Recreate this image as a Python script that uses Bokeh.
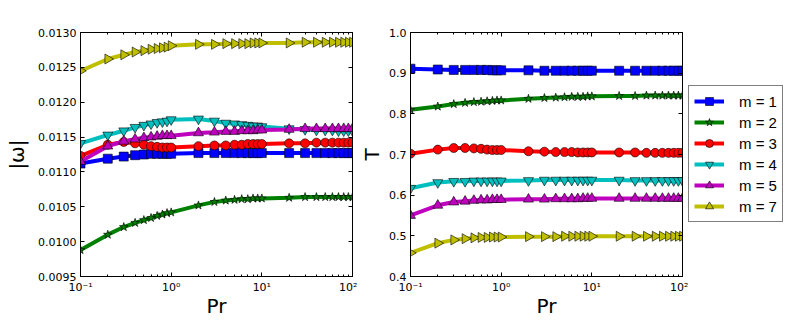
import math
from bokeh.plotting import figure
from bokeh.models import (LinearAxis, LogAxis, FixedTicker, Legend, LegendItem,
                          PrintfTickFormatter, Range1d)
from bokeh.layouts import row
from bokeh.embed import file_html
from bokeh.resources import INLINE

# ---------------- data ----------------
pr = [0.1, 0.2, 0.3, 0.4, 0.5, 0.6, 0.7, 0.8, 0.9,
      1, 2, 3, 4, 5, 6, 7, 8, 9,
      10, 20, 30, 40, 50, 60, 70, 80, 90, 100]

labels = ["m = 1", "m = 2", "m = 3", "m = 4", "m = 5", "m = 7"]

omega_m1 = [0.01112, 0.01119, 0.01122, 0.01124, 0.01125, 0.01126, 0.01126, 0.01126, 0.01126, 0.01126,
            0.01127, 0.01127, 0.01127, 0.01127, 0.01127, 0.01127, 0.01127, 0.01127, 0.01127,
            0.01127, 0.01127, 0.01127, 0.01127, 0.01127, 0.01127, 0.01127, 0.01127, 0.01127]
omega_m2 = [0.00988, 0.01010, 0.01021, 0.01027, 0.01031, 0.01034, 0.01037, 0.01039, 0.01041, 0.01042,
            0.01052, 0.01057, 0.01059, 0.01060, 0.01061, 0.01061, 0.01062, 0.01062, 0.01062,
            0.01063, 0.01064, 0.01064, 0.01064, 0.01064, 0.01064, 0.01064, 0.01064, 0.01064]
omega_m3 = [0.01123, 0.01139, 0.01143, 0.01141, 0.01139, 0.01137, 0.01136, 0.01135, 0.01135, 0.01135,
            0.01137, 0.01138, 0.01138, 0.01139, 0.01139, 0.01140, 0.01140, 0.01140, 0.01140,
            0.01141, 0.01141, 0.01142, 0.01142, 0.01142, 0.01142, 0.01142, 0.01142, 0.01142]
omega_m4 = [0.01141, 0.01153, 0.01159, 0.01164, 0.01167, 0.01169, 0.01171, 0.01172, 0.01173, 0.01175,
            0.01176, 0.01173, 0.01170, 0.01169, 0.01168, 0.01167, 0.01166, 0.01166, 0.01165,
            0.01162, 0.01161, 0.01160, 0.01160, 0.01160, 0.01159, 0.01159, 0.01159, 0.01159]
omega_m5 = [0.01115, 0.01137, 0.01144, 0.01147, 0.01149, 0.01150, 0.01151, 0.01152, 0.01152, 0.01152,
            0.01156, 0.01157, 0.01158, 0.01158, 0.01159, 0.01159, 0.01159, 0.01160, 0.01160,
            0.01161, 0.01162, 0.01162, 0.01162, 0.01162, 0.01162, 0.01162, 0.01162, 0.01162]
omega_m7 = [0.01245, 0.01262, 0.01268, 0.01272, 0.01274, 0.01276, 0.01277, 0.01278, 0.01279, 0.01281,
            0.01283, 0.01283, 0.01284, 0.01284, 0.01284, 0.01284, 0.01285, 0.01285, 0.01285,
            0.01285, 0.01286, 0.01286, 0.01286, 0.01286, 0.01286, 0.01286, 0.01286, 0.01286]

T_m1 = [0.911, 0.909, 0.908, 0.908, 0.908, 0.908, 0.908, 0.907, 0.907, 0.907,
        0.907, 0.906, 0.906, 0.906, 0.906, 0.906, 0.906, 0.906, 0.906,
        0.906, 0.906, 0.906, 0.906, 0.906, 0.906, 0.906, 0.906, 0.906]
T_m2 = [0.810, 0.818, 0.824, 0.827, 0.829, 0.830, 0.831, 0.832, 0.833, 0.833,
        0.837, 0.839, 0.840, 0.841, 0.842, 0.842, 0.842, 0.843, 0.843,
        0.844, 0.844, 0.845, 0.845, 0.845, 0.845, 0.845, 0.845, 0.845]
T_m3 = [0.702, 0.712, 0.716, 0.716, 0.715, 0.714, 0.712, 0.711, 0.711, 0.711,
        0.708, 0.707, 0.706, 0.706, 0.706, 0.705, 0.705, 0.705, 0.705,
        0.705, 0.705, 0.704, 0.704, 0.704, 0.704, 0.704, 0.704, 0.704]
T_m4 = [0.617, 0.631, 0.634, 0.634, 0.635, 0.635, 0.635, 0.635, 0.635, 0.635,
        0.636, 0.637, 0.637, 0.637, 0.637, 0.637, 0.637, 0.637, 0.637,
        0.637, 0.636, 0.636, 0.636, 0.636, 0.636, 0.636, 0.636, 0.636]
T_m5 = [0.550, 0.575, 0.583, 0.585, 0.587, 0.588, 0.588, 0.589, 0.589, 0.589,
        0.590, 0.590, 0.591, 0.591, 0.591, 0.591, 0.592, 0.592, 0.592,
        0.592, 0.592, 0.592, 0.592, 0.592, 0.592, 0.592, 0.592, 0.592]
T_m7 = [0.458, 0.482, 0.490, 0.493, 0.495, 0.496, 0.496, 0.497, 0.497, 0.497,
        0.498, 0.498, 0.498, 0.499, 0.499, 0.499, 0.499, 0.499, 0.499,
        0.499, 0.499, 0.499, 0.499, 0.499, 0.499, 0.499, 0.499, 0.499]

omega_series = [omega_m1, omega_m2, omega_m3, omega_m4, omega_m5, omega_m7]
T_series = [T_m1, T_m2, T_m3, T_m4, T_m5, T_m7]

x_major = [0.1, 1, 10, 100]
x_labels = {0.1: "10\u207b\u00b9", 1: "10\u2070", 10: "10\u00b9", 100: "10\u00b2"}
omega_ticks = [0.0095, 0.0100, 0.0105, 0.0110, 0.0115, 0.0120, 0.0125, 0.0130]
T_ticks = [0.4, 0.5, 0.6, 0.7, 0.8, 0.9, 1.0]

# ---------------- styles ----------------
colors = ["#0000ff", "#008000", "#ff0000", "#00bfbf", "#bf00bf", "#bfbf00"]
markers = ["square", "star", "circle", "inverted_triangle", "triangle", "triangle"]
angles = [0, 0, 0, 0, 0, -math.pi / 2]
sizes = [9, 9, 9, 10, 10, 10]
FONT = "DejaVu Sans"
LEGEND_FONT = "Liberation Sans"

x_minor = [m * d for d in [0.1, 1, 10] for m in range(2, 10)]

FRAME_W, FRAME_H = 272, 244
TOP, BOTTOM = 32, 39


def style_axis(ax, show_labels=True):
    ax.major_tick_in = 4
    ax.major_tick_out = 0
    ax.minor_tick_in = 2
    ax.minor_tick_out = 0
    ax.axis_line_color = "black"
    ax.major_tick_line_color = "black"
    ax.minor_tick_line_color = "black"
    ax.major_label_text_font = FONT
    ax.major_label_text_color = "black"
    ax.axis_label_text_font = FONT
    ax.axis_label_text_font_style = "normal"
    ax.axis_label_text_color = "black"
    if show_labels:
        ax.major_label_text_font_size = "11px"
        ax.major_label_standoff = 4
        ax.axis_label_text_font_size = "20px"
    else:
        ax.major_label_text_font_size = "1px"
        ax.major_label_text_alpha = 0
        ax.major_label_standoff = 0
        ax.axis_label_standoff = 0


def make_fig(series, y_lo, y_hi, yticks, yfmt, ylabel, border_left, border_right, label_standoff):
    p = figure(x_axis_type="log", x_range=Range1d(0.1, 100), y_range=Range1d(y_lo, y_hi),
               frame_width=FRAME_W, frame_height=FRAME_H,
               min_border_left=border_left, min_border_right=border_right,
               min_border_top=TOP, min_border_bottom=BOTTOM,
               output_backend="svg", toolbar_location=None)
    p.grid.visible = False
    p.outline_line_color = "black"
    p.outline_line_width = 1
    p.background_fill_color = "white"
    p.border_fill_color = "white"

    xt = FixedTicker(ticks=x_major, minor_ticks=x_minor)
    yt = FixedTicker(ticks=yticks, minor_ticks=[])

    xa = p.xaxis[0]
    xa.ticker = xt
    xa.major_label_overrides = x_labels
    xa.axis_label = "Pr"
    style_axis(xa)
    xa.axis_label_standoff = -3

    ya = p.yaxis[0]
    ya.ticker = yt
    ya.formatter = PrintfTickFormatter(format=yfmt)
    ya.axis_label = ylabel
    style_axis(ya)
    ya.axis_label_standoff = label_standoff

    top = LogAxis(ticker=xt)
    style_axis(top, show_labels=False)
    p.add_layout(top, "above")
    right = LinearAxis(ticker=yt)
    style_axis(right, show_labels=False)
    p.add_layout(right, "right")

    for ys, c, mk, ang, sz in zip(series, colors, markers, angles, sizes):
        p.line(pr, ys, line_color=c, line_width=4)
        p.scatter(pr, ys, marker=mk, size=sz, angle=ang,
                  fill_color=c, line_color="black", line_width=0.6)
    return p


p1 = make_fig(omega_series, 0.0095, 0.0130, omega_ticks, "%.4f", "|\u03c9|", 80, 5, 6)
p2 = make_fig(T_series, 0.4, 1.0, T_ticks, "%.1f", "T", 52, 6, 2)

# legend panel: same frame geometry as the plots; its copies of the series lie
# outside its x range, so only the legend shows
p3 = figure(frame_width=96, frame_height=FRAME_H, x_range=Range1d(1000, 2000),
            y_range=Range1d(0.4, 1.0),
            min_border_left=0, min_border_right=0,
            min_border_top=TOP, min_border_bottom=BOTTOM,
            x_axis_location=None, y_axis_location=None,
            output_backend="svg", toolbar_location=None)
p3.grid.visible = False
p3.outline_line_color = None
items = []
for lab, ys, c, mk, ang, sz in zip(labels, T_series, colors, markers, angles, sizes):
    ln = p3.line(pr, ys, line_color=c, line_width=4)
    sc = p3.scatter(pr, ys, marker=mk, size=sz, angle=ang,
                    fill_color=c, line_color="black", line_width=0.6)
    items.append(LegendItem(label=lab, renderers=[ln, sc]))

legend = Legend(items=items, location=(0, 54))
legend.label_text_font = LEGEND_FONT
legend.label_text_font_size = "15px"
legend.label_text_color = "black"
legend.glyph_width = 30
legend.glyph_height = 20
legend.label_height = 20
legend.label_standoff = 15
legend.spacing = 1
legend.padding = 5
legend.margin = 0
legend.border_line_color = "black"
legend.border_line_width = 1
legend.background_fill_alpha = 1
p3.add_layout(legend, "center")

layout = row(p1, p2, p3, spacing=0)

open("out.html", "w").write(file_html(layout, INLINE))
